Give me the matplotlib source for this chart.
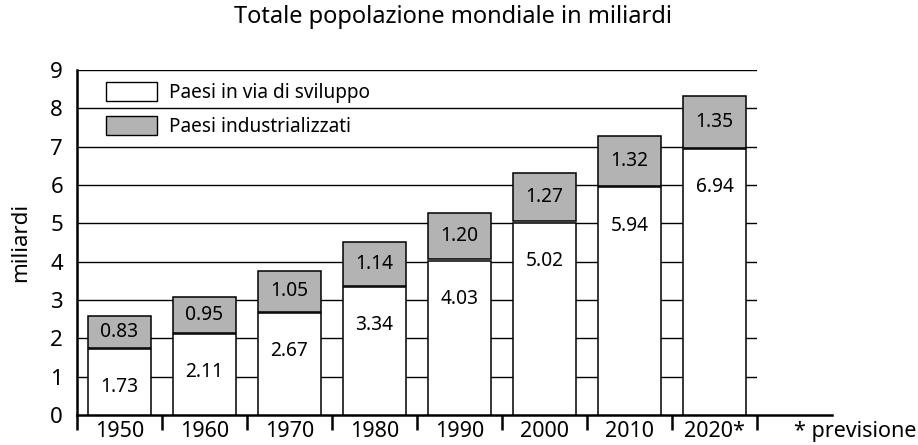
import matplotlib
matplotlib.use("Agg")
import matplotlib.pyplot as plt
import numpy as np
from matplotlib.patches import Patch

plt.rcParams['font.family'] = ['Noto Sans', 'DejaVu Sans']

years = ["1950", "1960", "1970", "1980", "1990", "2000", "2010", "2020*"]
developing = [1.73, 2.11, 2.67, 3.34, 4.03, 5.02, 5.94, 6.94]
industrialized = [0.83, 0.95, 1.05, 1.14, 1.20, 1.27, 1.32, 1.35]
yticks = [0, 1, 2, 3, 4, 5, 6, 7, 8, 9]

title = "Totale popolazione mondiale in miliardi"
ylabel = "miliardi"
legend_labels = ["Paesi in via di sviluppo", "Paesi industrializzati"]
note = "* previsione"

GRAY = "#b3b3b3"

fig = plt.figure(figsize=(9.18, 4.45), dpi=100)
ax = fig.add_axes([77/918, 1 - 415/445, (757 - 77)/918, (415 - 70)/445])

x = np.arange(len(years))
w = 0.73
ax.bar(x, developing, width=w, color="white", edgecolor="black", linewidth=1.1, zorder=3)
ax.bar(x, industrialized, width=w, bottom=np.array(developing) + 0.03, color=GRAY,
       edgecolor="black", linewidth=1.1, zorder=3)

for xi, d, i in zip(x, developing, industrialized):
    ax.text(xi, d - 1.0, f"{d:.2f}", ha="center", va="center", fontsize=13.8, zorder=4)
    ax.text(xi, d + 0.03 + i / 2, f"{i:.2f}", ha="center", va="center", fontsize=13.8, zorder=4)

ax.set_xlim(-0.5, len(years) - 0.5)
ax.set_ylim(0, 9)
ax.set_yticks(yticks)
ax.set_yticklabels([str(v) for v in yticks], fontsize=16)
ax.tick_params(axis="y", length=0, pad=10)
for v in yticks[1:]:
    ax.axhline(v, color="black", linewidth=1.0, zorder=1)

ax.set_xticks(np.arange(-0.5, len(years), 1.0))
ax.set_xticklabels([])
ax.tick_params(axis="x", which="major", direction="out", length=11, width=1.8)
ax.set_xticks(x, minor=True)
ax.set_xticklabels(years, minor=True, fontsize=15.5)
ax.tick_params(axis="x", which="minor", length=0, pad=4)

for s in ["top", "right"]:
    ax.spines[s].set_visible(False)
ax.spines["left"].set_linewidth(1.8)
ax.spines["bottom"].set_linewidth(1.8)
ax.spines["bottom"].set_bounds(-0.5, len(years) - 0.5 + 0.88)
ax.spines["bottom"].set_clip_on(False)
ax.spines["left"].set_bounds(0, 9)

ax.set_ylabel(ylabel, fontsize=16, labelpad=14)
fig.text(453/918, 1 - 17/445, title, ha="center", va="center", fontsize=17)
fig.text(916/918, 1 - 431/445, note, ha="right", va="center", fontsize=15.5)

handles = [Patch(facecolor="white", edgecolor="black", linewidth=1.0),
           Patch(facecolor=GRAY, edgecolor="black", linewidth=1.0)]
ax.legend(handles, legend_labels, loc="upper left", bbox_to_anchor=(0.018, 1.015),
          frameon=False, fontsize=13.7, handlelength=2.65, handleheight=1.15,
          labelspacing=0.7, handletextpad=0.65)

fig.savefig("out.png", dpi=100)
